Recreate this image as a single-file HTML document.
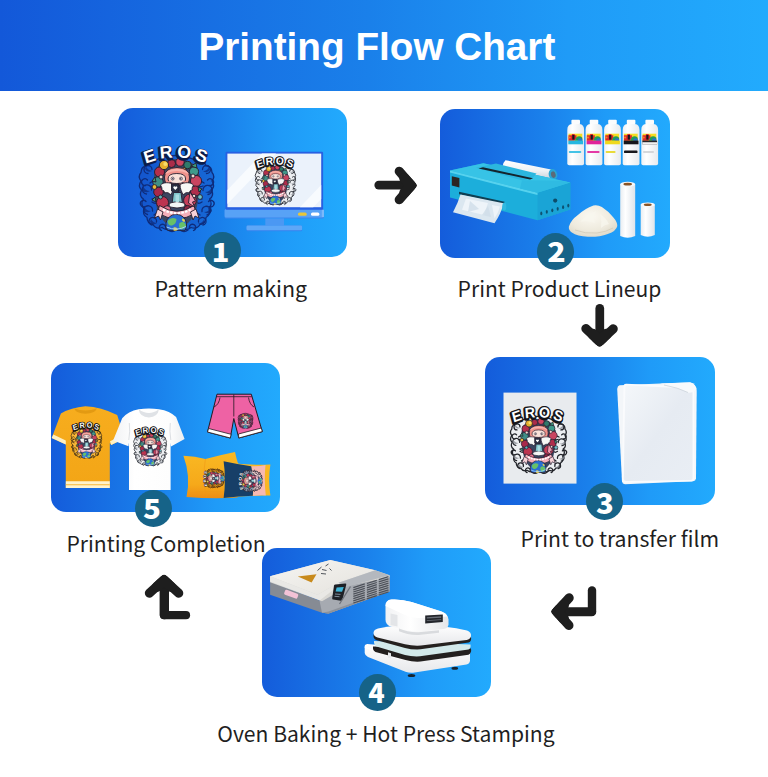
<!DOCTYPE html>
<html lang="en">
<head>
<meta charset="utf-8">
<title>Printing Flow Chart</title>
<style>
*{box-sizing:border-box;margin:0;padding:0}
html,body{width:768px;height:777px;overflow:hidden;background:#fff}
body{position:relative;font-family:"Noto Sans CJK SC","Liberation Sans",sans-serif;color:#222}
.hdr{position:absolute;left:0;top:0;width:768px;height:91px;background:linear-gradient(90deg,#1358d9 0%,#1a80ea 48%,#1f9bf7 74%,#22abfd 100%)}
.hdr h1{position:absolute;left:198.5px;top:19.4px;white-space:nowrap;font-family:"Liberation Sans",sans-serif;font-weight:700;font-size:38.7px;line-height:56px;color:#fff}
.panel{position:absolute;border-radius:15px;background:linear-gradient(90deg,#145cdb 0%,#1a80eb 45%,#1f9bf8 72%,#22aafd 100%);overflow:hidden}
#p1{left:117.5px;top:108px;width:229.5px;height:149px}
#p2{left:440px;top:109px;width:230px;height:148.5px}
#p3{left:485px;top:356.5px;width:229.7px;height:148.7px}
#p4{left:261.5px;top:547.7px;width:229.2px;height:149px}
#p5{left:51px;top:362.5px;width:229.2px;height:149px}
.badge{position:absolute;width:37px;height:37px;border-radius:50%;background:#166388;color:#fff;font-weight:900;font-size:27px;line-height:37px;text-align:center}
.badge span{display:block;width:37px;height:37px}
.lbl{position:absolute;font-size:21.1px;line-height:30px;white-space:nowrap;color:#1f1f1f}
svg{position:absolute;overflow:visible}
.art{left:0;top:0;width:768px;height:777px}
.eros{font-family:"Liberation Sans",sans-serif;text-anchor:middle}
</style>
</head>
<body>
<div class="hdr"><h1>Printing Flow Chart</h1></div>

<div class="panel" id="p1"></div>
<div class="panel" id="p2"></div>
<div class="panel" id="p3"></div>
<div class="panel" id="p4"></div>
<div class="panel" id="p5"></div>
<!-- shared artwork definition (illustration only, lettering is added as real text per instance) -->
<svg width="0" height="0" style="left:0;top:0">
<defs>
<path id="arcE" d="M8.500 22.800A75 75 0 0 1 68 22.800" fill="none"/>
<symbol id="swirl" viewBox="0 0 80 92" overflow="visible">
  <g fill="var(--sf,none)" stroke="var(--sw,#143a94)" stroke-width="var(--swd,1.3)" stroke-linecap="round" stroke-linejoin="round">
    <path d="M17 19.500q-6-1-8 4q-6 1-6 7q-3.500 4 0 8.500q-3.500 5 .5 9q-3 6 2 9q-3.500 5 .5 9.500q-2 6 3 9q0 6 6 7q3 5 9 3q5 4 10 0h9q5 4 10 0q6 2 9-3q6-1 6-7q5-3 3-9q4-4.500 .5-9.500q5-3 2-9q4-4 .5-9q3.500-4.500 0-8.500q0-6-6-7q-2-5-8-4q-11-6-22.500-6t-22.500 6z"/>
    <path d="M14 27.500a4 4 0 1 0-4 4M9.500 38a3.400 3.400 0 1 0-2 5.500M13.500 48a4.600 4.600 0 1 0-5 4M8 59.500a3.200 3.200 0 1 0-1 5M14.500 69a4.400 4.400 0 1 0-5 3.500M18.500 80a3.800 3.800 0 1 0-4.500 3M27.500 86.500a3.200 3.200 0 1 0-4 2" fill="none"/>
    <path d="M64.500 27.500a4 4 0 1 1 4 4M69.500 38a3.400 3.400 0 1 1 2 5.500M65 48.500a4.600 4.600 0 1 1 5 4M70.500 59.500a3.200 3.200 0 1 1 1 5M64 69.500a4.400 4.400 0 1 1 5 3.500M60.500 80a3.800 3.800 0 1 1 4.500 3M51.500 86.500a3.200 3.200 0 1 1 4 2" fill="none"/>
    <path d="M12 41q4-3 6 1q-1 4-5 2M14 57q4-2 6 2q-2 4-6 1M66 41q-4-3-6 1q1 4 5 2M64 57q-4-2-6 2q2 4 6 1M16 73q3-3 6 0M62 73q-3-3-6 0M30 88q4 3 8 0M42 88q4 3 8 0M18 33q3-2 5 1M61 33q-3-2-5 1" fill="none"/>
  </g>
  <g fill="var(--sg,none)" opacity=".75">
    <path d="M5 44q2 5 7 5q-5 3-8-1zM74 45q-2 5-7 5q5 3 8-1zM6 64q2 5 7 5q-5 3-8-1zM73 65q-2 5-7 5q5 3 8-1zM8 24q1 4 6 5q-5 2-7-2zM71 24.500q-1 4-6 5q5 2 7-2zM13 77q2 4 6 4q-4 3-7-1zM66 77.500q-2 4-6 4q4 3 7-1z"/>
  </g>
</symbol>
<symbol id="core" viewBox="0 0 80 92" overflow="visible">
  <g stroke="#261d2e" stroke-width=".9" stroke-linejoin="round">
  <!-- floral wreath -->
  <path d="M39 17c8.500 0 15.500 3 19.500 8.500c4 6 3.500 14.500 2.500 22c-1 9-1 16-4 23c-3 8-9 14.500-18 14.500s-15.500-6.500-18.500-14.500c-3-7-3-14-4-23c-1-7.500-1.500-16 2.500-22c4-5.500 11.500-8.500 20-8.500z" fill="#3a4560" stroke="none"/>
  <circle cx="21.500" cy="30" r="5" fill="#b5304b"/><circle cx="20" cy="40" r="5.200" fill="#3f8f86"/><circle cx="20.500" cy="50" r="4.800" fill="#a8294a"/>
  <circle cx="56" cy="29.500" r="4.600" fill="#3f9a8a"/><circle cx="58" cy="39" r="5.600" fill="#c94460"/><circle cx="57.500" cy="49" r="5" fill="#b02e4c"/>
  <circle cx="24.500" cy="60.500" r="6" fill="#bd3450"/><circle cx="52" cy="58.500" r="6.400" fill="#c43e59"/>
  <circle cx="29" cy="67.500" r="3.800" fill="#e0708a"/><circle cx="49.500" cy="67" r="3.600" fill="#8f2745"/>
  <circle cx="33.500" cy="21.500" r="4" fill="#ab2d49"/><circle cx="42" cy="20" r="4.200" fill="#cf4560"/><circle cx="49.500" cy="23" r="3.800" fill="#2f7a6a"/>
  <circle cx="26" cy="23" r="4.600" fill="#e6b02c"/>
  <path d="M53 24l5-3l1 5zM17 35l-3 4l4 1zM60 45l4 2l-3 3zM17 55l-3 3l4 2z" fill="#3e9c7c"/>
  <circle cx="16.500" cy="45" r="2.400" fill="#e8b83a"/><circle cx="62" cy="55" r="2.400" fill="#6cc1c8"/><circle cx="46" cy="27.500" r="2" fill="#f0c23a"/>
  <circle cx="23" cy="35" r="2" fill="#f2d8d0"/><circle cx="55" cy="34" r="2" fill="#f2d8d0"/><circle cx="22.500" cy="55" r="2" fill="#5fb4b8"/><circle cx="56" cy="54" r="1.800" fill="#f2d8d0"/>
  <!-- hair + face -->
  <path d="M26.500 35q0-9 12.500-9.500q12.500.5 12.500 9.500q0 7-4 8h-17q-4-1-4-8z" fill="#f0928b"/>
  <path d="M30 37q0-5.500 8.800-5.500t8.800 5.500q0 4.500-8.800 4.500t-8.800-4.500z" fill="#f9e2da"/>
  <!-- wings -->
  <path d="M36 42.500c-5-2.500-10.500-2.500-13.500 .5c1 2 2 3 1 5c2 0 3 1 3 3c3-1 5 0 6 2c2-3 3.500-6.500 3.500-10.500z" fill="#f7f7f5"/>
  <path d="M42 42.500c5-2.500 10.500-2.500 13.500 .5c-1 2-2 3-1 5c-2 0-3 1-3 3c-3-1-5 0-6 2c-2-3-3.500-6.500-3.500-10.500z" fill="#f7f7f5"/>
  <path d="M33.500 42h7.500v7l-3.700 2.500l-3.800-2.500z" fill="#2c3144"/>
  <!-- dress -->
  <path d="M35.500 50.500h7.500l1.500 11.500h-10.500z" fill="#7fc3ca"/>
  <path d="M32 61q7-3 14 0q2 2 0 4q-7 2-14 0q-2-2 0-4z" fill="#f4f6f6"/>
  <!-- banner -->
  <path d="M21.500 63.500q17.500 11.500 34.500 0l2 7.500q-19 11.500-38.500 0z" fill="#f5aeb9"/>
  <path d="M19.500 67l-3 9l4-2l2 4l2.500-8zM58 67l3 9l-4-2l-2 4l-2.500-8z" fill="#f8d2d8"/>
  <path d="M52 50l5.500 9l-3 1l2 5l-6-4z" fill="#f49ab0"/>
  <!-- globe -->
  <path d="M29.500 88.300A10.400 10.400 0 1 1 47 88.300z" fill="#2a6fd2"/>
  </g>
  <circle cx="27.300" cy="22" r="2" fill="#f7dc6a"/>
  <path d="M27 32q3-5 12-5t12 5q-6-3-12-3t-12 3z" fill="#f7b4ac"/>
  <circle cx="34.600" cy="36.600" r="1.500" fill="#fff" stroke="#3a2c3c" stroke-width=".7"/><circle cx="43" cy="36.600" r="1.500" fill="#fff" stroke="#3a2c3c" stroke-width=".7"/>
  <circle cx="34.800" cy="36.800" r=".7" fill="#2a2030"/><circle cx="42.800" cy="36.800" r=".7" fill="#2a2030"/>
  <ellipse cx="32" cy="39.300" rx="1.500" ry=".8" fill="#f3a09c"/><ellipse cx="45.600" cy="39.300" rx="1.500" ry=".8" fill="#f3a09c"/>
  <path d="M37.300 48l-1.900-2a1.100 1.100 0 0 1 1.900-1.100a1.100 1.100 0 0 1 1.900 1.100z" fill="#fff"/>
  <path d="M37.500 52.500h3.500v7.500h-3.500z" fill="#a8dbe0"/>
  <path d="M25 67.500q14 7.500 27.500 0" fill="none" stroke="#fff" stroke-width="2.200" stroke-dasharray="2.600 1.200"/>
  <path d="M29.500 79q4-5 9-2q0 5-4.500 6.500q-4 .5-4.500-4.500zM41.500 81q5-3 6.500 2.500q-1 3.500-5 4q-3-2.500-1.500-6.500z" fill="#67c068"/>
  <path d="M35.500 85.500q3-1 4.500 2q-2 2-4.500 1zM44 76.500q3 0 3 3q-3 1-3-3z" fill="#ead24a"/>
  <path d="M28.500 85q10 4.500 19.500-.5" fill="none" stroke="#9fd0ff" stroke-width="1"/>
</symbol>
</defs>
</svg>
<!-- PANEL 1 : artwork + monitor -->
<svg class="art" viewBox="0 0 768 777">
  <!-- big artwork -->
  <g transform="translate(138 142) scale(1.0000)">
    <use href="#swirl" width="80" height="92" style="--sw:#0e2c7c;--sf:rgba(18,60,170,.32);--sg:#0e2c7c;--swd:1.3"/><use href="#core" width="80" height="92"/>
    <g transform="translate(39 24) scale(1.06 1.16) translate(-39 -24)"><text class="eros" font-size="15" font-weight="700" letter-spacing="3" textLength="61" lengthAdjust="spacingAndGlyphs" fill="#0b1c4a" stroke="#0b1c4a" stroke-width="2.600" stroke-linejoin="round" transform="translate(-.9 1.100)"><textPath href="#arcE" startOffset="51.500%">EROS</textPath></text>
    <text class="eros" font-size="15" font-weight="700" letter-spacing="3" textLength="61" lengthAdjust="spacingAndGlyphs" fill="#fff" stroke="#0b1c4a" stroke-width=".8" stroke-linejoin="round" paint-order="stroke"><textPath href="#arcE" startOffset="51.500%">EROS</textPath></text></g>
  </g>

  <!-- monitor -->
  <rect x="224.600" y="209" width="99.400" height="9.600" rx="1.500" fill="#3a86ee"/><rect x="224.600" y="209" width="99.400" height="8.600" rx="1.500" fill="#58a2f6"/><rect x="321.800" y="210" width="2.200" height="7" fill="#7db9fa"/>
  <rect x="225.500" y="151.700" width="97.600" height="58" rx="1.200" fill="#2760e2"/>
  <rect x="227.400" y="153.600" width="93.800" height="53.600" fill="#ebf2fb"/>
  <path d="M227.400 190L262 153.600h14L227.400 204zM300 207.200L321.200 185v14l-8 8.200z" fill="#f8fbfe"/>
  <rect x="298" y="212.500" width="8.700" height="3.200" rx="1.500" fill="#e8c63a"/>
  <rect x="311" y="212.500" width="8.400" height="3.200" rx="1.500" fill="#fff"/>
  <rect x="265.300" y="218.400" width="18.700" height="7.400" fill="#4b98f3"/>
  <rect x="246.500" y="225.600" width="55.600" height="5.600" rx="1.200" fill="#3483ee"/><rect x="246.500" y="225.600" width="55.600" height="4.600" rx="1.200" fill="#5ea7f7"/>
  <!-- small artwork on the screen -->
  <g transform="translate(254.5 156.5) scale(0.5437)">
    <use href="#swirl" width="80" height="92" style="--sw:#30333b;--sf:#eceef1;--sg:#9a9ea6;--swd:1.7"/><use href="#core" width="80" height="92"/>
    <g transform="translate(39 24) scale(1.13 1.3) translate(-39 -24)">
    <text class="eros" font-size="15" font-weight="700" letter-spacing="3" textLength="61" lengthAdjust="spacingAndGlyphs" fill="#15161b" stroke="#15161b" stroke-width="3.800" stroke-linejoin="round" transform="translate(-.8 1.100)"><textPath href="#arcE" startOffset="51.500%">EROS</textPath></text>
    <text class="eros" font-size="15" font-weight="700" letter-spacing="3" textLength="61" lengthAdjust="spacingAndGlyphs" fill="#fff" stroke="#15161b" stroke-width="2.800" stroke-linejoin="round" paint-order="stroke"><textPath href="#arcE" startOffset="51.500%">EROS</textPath></text>
    </g>
  </g>
</svg>
<!-- PANEL 2 : printer, inks, powder, film rolls -->
<svg class="art" viewBox="0 0 768 777">
  <defs>
    <linearGradient id="rollg" x1="0" x2="1" y1="0" y2="0"><stop offset="0" stop-color="#e9edf1"/><stop offset=".35" stop-color="#ffffff"/><stop offset="1" stop-color="#dfe4ea"/></linearGradient>
    <linearGradient id="rollh" x1="0" x2="0" y1="0" y2="1"><stop offset="0" stop-color="#ffffff"/><stop offset=".55" stop-color="#eef1f4"/><stop offset="1" stop-color="#c9d0d8"/></linearGradient>
    <radialGradient id="powg" cx=".45" cy=".35" r=".75"><stop offset="0" stop-color="#fbf9f2"/><stop offset=".6" stop-color="#eeeadd"/><stop offset="1" stop-color="#d9d3c2"/></radialGradient>
    <linearGradient id="botg" x1="0" x2="1" y1="0" y2="0"><stop offset="0" stop-color="#eef1f4"/><stop offset=".3" stop-color="#ffffff"/><stop offset="1" stop-color="#e6eaee"/></linearGradient>
  </defs>
  <!-- film roll on the back of the printer -->
  <path d="M505.500 160.200L551 169.500q4.500 1.200 4 6.500q-.6 4-5 3.400L503.500 170q-2.500-5.500 2-9.800z" fill="url(#rollh)"/>
  <ellipse cx="553" cy="174.500" rx="4.300" ry="5.600" transform="rotate(-14 553 174.500)" fill="#2aa6d4"/>
  <ellipse cx="553.300" cy="174.600" rx="2.300" ry="3.300" transform="rotate(-14 553.300 174.600)" fill="#5b6b78"/>
  <!-- printer body -->
  <path d="M450 170.400L483.400 163.200L570.300 182.600L570.300 209.600L537.500 220.200L450 197.600z" fill="#1caedb"/>
  <path d="M450 170.400L483.400 163.200L570.300 182.600L537.500 192.800z" fill="#37c3e6"/>
  <path d="M537.500 192.800L570.300 182.600V209.600L537.500 220.200z" fill="#1aa4d6"/>
  <path d="M450 170.400L537.500 192.800V195L450 172.600z" fill="#56d2ee"/>
  <!-- lid details -->
  <path d="M476 167.800L496 163.600L536.500 173.600L532 178.600L522 180.300z" fill="#2bb6de"/>
  <path d="M478.500 168.500L483 167.300L533 178.300L530 179.600z" fill="#14252e"/>
  <path d="M522 180.300L560 180.800L570.300 182.600L537.500 192.800L520 188.400z" fill="#2fbbe2"/>
  <!-- front label -->
  <rect x="451.800" y="176.200" width="7.600" height="9.400" fill="#2b2623" transform="skewY(14.300) translate(0 -115.200)"/>
  <!-- output slot and film -->
  <path d="M459 191.700L504.500 201.800V204.400L459 194.300z" fill="#0f3e52"/>
  <path d="M460.500 194.600L503.500 203.300Q501 214 494.500 223.200L453 212.200Q458 203 460.500 194.600z" fill="#dbe7f0"/>
  <path d="M466 198.500L488 203l-4 12l-22-5.200zM492 205l8 1.600q-2 7-5.500 12z" fill="#eff5fa" opacity=".9"/>
  <path d="M470 201l9 8l-11 3zM488 206l-6 9l9 2z" fill="#cfdde8" opacity=".8"/>
  <ellipse cx="504.300" cy="206.600" rx="2" ry="4" fill="#2fb9e0"/>
  <!-- side holes -->
  <circle cx="555.200" cy="200.600" r="2.100" fill="#0d4d6a"/>
  <g fill="#0e5272"><ellipse cx="541.300" cy="213.400" rx="1.050" ry="1.900"/><ellipse cx="546.800" cy="211.800" rx="1.050" ry="1.900"/><ellipse cx="552.300" cy="210.300" rx="1.050" ry="1.900"/><ellipse cx="557.700" cy="208.800" rx="1.050" ry="1.900"/><ellipse cx="563.100" cy="207.200" rx="1.050" ry="1.900"/><ellipse cx="568.300" cy="205.600" rx="1.050" ry="1.900"/></g>

  <!-- ink bottles -->
  <g id="bottles">
    <g id="b1"><rect x="571.400" y="119.700" width="8.600" height="4.600" rx="1" fill="#fbfcfd"/><path d="M567.300 130q0-5.400 4.600-5.900h7.600q4.600.5 4.600 5.900V163.500q0 1.800-1.800 1.800H569.100q-1.800 0-1.800-1.800z" fill="url(#botg)"/>
      <rect x="568.500" y="133.700" width="13.800" height="7.200" fill="#f6dc22"/><path d="M568.500 135.200h3.400v-1.200h2.800v1.200h1.800v2.800l-2 2.800h-6z" fill="#e0262d"/><rect x="572.300" y="135" width="2.200" height="4.600" fill="#17171b"/><path d="M576.200 137.600q3-2.600 6.100.2v3h-7.500z" fill="#1f9c5a"/><path d="M578.500 138.800q2-1.200 3.800.4v1.600h-4.600z" fill="#2a6fd0"/><circle cx="569.700" cy="137.500" r="1.100" fill="#f08a1c"/></g>
    <use href="#b1" x="18.300"/><use href="#b1" x="36.800"/><use href="#b1" x="55.400"/><use href="#b1" x="74"/>
    <rect x="568.300" y="140.600" width="14.800" height="3.700" fill="#25b7e0"/><rect x="586.600" y="140.600" width="14.800" height="3.700" fill="#e0239a"/><rect x="605.100" y="140.600" width="14.800" height="3.700" fill="#efd91c"/><rect x="623.700" y="140.600" width="14.800" height="3.700" fill="#15151a"/><rect x="642.300" y="140.600" width="14.800" height="3.700" fill="#26262b"/><rect x="642.300" y="142.200" width="14.800" height="2.100" fill="#f0f0f0"/>
    <rect x="568.800" y="151" width="12.500" height="1.900" rx=".9" fill="#45c3e6"/><rect x="587.100" y="151" width="12.500" height="1.900" rx=".9" fill="#e43aa6"/><rect x="605.600" y="151" width="10" height="1.900" rx=".9" fill="#e9db3a"/><rect x="624" y="150.600" width="13.500" height="2.500" rx=".9" fill="#17171c"/><rect x="643" y="151.200" width="11" height="1.500" rx=".7" fill="#c9ccd0"/>
  </g>

  <!-- powder -->
  <path d="M568.900 226.500q2-6.500 9-11.500q7-6.500 15.500-9.500q4.500-.8 8.500 1.500q7 4.500 11.500 10.500q4 4.500 3.900 8.500q-1 5-9.500 8q-8.500 3.200-20 2.800q-10.500-.6-16-4.300q-3.500-2.500-2.900-6z" fill="url(#powg)"/>
  <path d="M580 222q8-9 16-11q-3 6-1 12q-7-3-15-1zM600 214q6 4 9 10q-5 1-8 4q1-7-1-14z" fill="#f8f6ee" opacity=".8"/>
  <path d="M575 230q10 4 22 3q9-1 16-5" fill="none" stroke="#cfc8b5" stroke-width="1" opacity=".7"/>

  <!-- film rolls -->
  <path d="M620.200 184.300q7.500-3.600 15 0V236q-7.500 3.600-15 0z" fill="url(#rollg)"/>
  <ellipse cx="627.700" cy="184.200" rx="7.500" ry="2.500" fill="#f7f8fa"/><ellipse cx="627.700" cy="184.200" rx="4.300" ry="1.350" fill="#8a5426"/>
  <path d="M640.700 204.800q7-3.400 14.100 0V235q-7 3.400-14.100 0z" fill="url(#rollg)"/>
  <ellipse cx="647.750" cy="204.700" rx="7.050" ry="2.300" fill="#f7f8fa"/><ellipse cx="647.750" cy="204.700" rx="4" ry="1.250" fill="#8a5426"/>
</svg>
<!-- PANEL 3 : printed film + blank sheets -->
<svg class="art" viewBox="0 0 768 777">
  <defs>
    <linearGradient id="shg" x1="0" x2="1" y1="0" y2="1"><stop offset="0" stop-color="#f4f7fa"/><stop offset=".5" stop-color="#e6ebf2"/><stop offset="1" stop-color="#e9eef4"/></linearGradient>
  </defs>
  <rect x="503.500" y="392.600" width="73" height="91" fill="#e8ebee"/>
  <g transform="translate(509.5 406.3) scale(0.7500)">
    <use href="#swirl" width="80" height="92" style="--sw:#22242a;--sf:#eceef1;--sg:#80848c;--swd:1.7"/><use href="#core" width="80" height="92"/>
    <g transform="translate(39 24) scale(1.13 1.3) translate(-39 -24)">
    <text class="eros" font-size="15" font-weight="700" letter-spacing="3" textLength="61" lengthAdjust="spacingAndGlyphs" fill="#14151a" stroke="#14151a" stroke-width="3.400" stroke-linejoin="round" transform="translate(-.8 1)"><textPath href="#arcE" startOffset="51.500%">EROS</textPath></text>
    <text class="eros" font-size="15" font-weight="700" letter-spacing="3" textLength="61" lengthAdjust="spacingAndGlyphs" fill="#fff" stroke="#14151a" stroke-width="2.600" stroke-linejoin="round" paint-order="stroke"><textPath href="#arcE" startOffset="51.500%">EROS</textPath></text>
    </g>
  </g>

  <!-- blank film stack -->
  <path d="M619.500 385.200L690 382.300q6.500 1.500 6.700 8.500L696 478.500q-.4 2.600-3 2.800L625 484.300q-2.600-.2-3-2.800L617.200 389q.2-3 2.300-3.800z" fill="#f3f6f9"/>
  <path d="M626 383.700L689 386.600q4.500.6 5 5L694.400 479q-.3 2.300-2.600 2.500L624.500 482.800q-2.400-.2-2.600-2.600L623.500 386q.3-2.200 2.500-2.300z" fill="#fafbfd"/>
  <path d="M627.300 385.600L688 388.400q4 .6 4.500 4.500L692.600 478q-.2 1.800-2 2L626 481q-2-.2-2.200-2L625.300 387.500q.3-1.800 2-1.900z" fill="url(#shg)"/>
  <path d="M660 383.500L690 382.500q5 1 6.300 6.500q-3 4-8.300 3.600q-10-5.500-28-9.100z" fill="#f8fafc"/>
  <path d="M664 385q14 2.500 24 7.500" fill="none" stroke="#cdd4dc" stroke-width=".8"/>
</svg>
<!-- PANEL 4 : curing oven + heat press -->
<svg class="art" viewBox="0 0 768 777">
  <defs>
    <linearGradient id="lid" x1="0" x2="1" y1="0" y2="1"><stop offset="0" stop-color="#f6f5f2"/><stop offset="1" stop-color="#e4e2dd"/></linearGradient>
    <linearGradient id="hp" x1="0" x2="0" y1="0" y2="1"><stop offset="0" stop-color="#ffffff"/><stop offset="1" stop-color="#e7e8eb"/></linearGradient>
    <linearGradient id="hp2" x1="0" x2="1" y1="0" y2="0"><stop offset="0" stop-color="#f1f2f4"/><stop offset=".4" stop-color="#ffffff"/><stop offset="1" stop-color="#e4e6e9"/></linearGradient>
  </defs>
  <!-- oven body -->
  <path d="M270.100 581.500L319.500 600.500L389.600 577V591.600L328.600 613.600L322 612.800L270.100 594.800z" fill="#868b94"/>
  <path d="M319.500 600.500L336 585L389.600 575.300V591.600L328.600 613.600L322 612.800z" fill="#a6aab1"/>
  <path d="M322 612.800L328.600 613.600L389.600 591.600V589.800L328.600 611.600z" fill="#8d929a"/>
  <!-- lid -->
  <path d="M270.100 576.200L330.300 560.100L375.200 570.300L389.600 575.300V577.200L344 586.500L338 592L322 601.200L270.100 582.300z" fill="#d9d8d4"/>
  <path d="M270.100 576.200L330.300 560.100L375.200 570.300L338.500 582.800L317.500 594.800z" fill="url(#lid)"/>
  <path d="M270.100 576.200L317.500 594.800L338.500 582.800L340 584.500L320 600.300L270.100 581.600z" fill="#e9e8e5"/>
  <path d="M338.500 582.800L375.200 570.300L389.600 575.300L346 587z" fill="#b4b8be"/>
  <!-- warning triangle + marks -->
  <path d="M297.800 576.600L316.500 574.200L311.600 582.400z" fill="#c88a1c"/>
  <path d="M317.500 570.500l4-3.500M322 569.500l4.500 1M325.500 566l3-2M321 573.500l5 .5M329.500 568.500l2 2" stroke="#4f545a" stroke-width="1" fill="none"/>
  <!-- handle -->
  <rect x="284.200" y="591.600" width="14" height="5.200" rx="1.400" fill="#f3c2d6" transform="rotate(20 291.200 594.200)"/>
  <!-- control panel -->
  <path d="M334 585.600q.3-1 1.400-1.100L345.200 583.500q1.500 0 1 1.400L342.400 599.800q-.4 1.100-1.600 1L333.200 599.600q-1.200-.2-1-1.400z" fill="#1d2026"/>
  <path d="M336.600 587.500L343.800 586.900L342 591.800L335.600 591.500z" fill="#3fb5d8"/>
  <path d="M335 594l5.500.4M334.500 596.300l5 .4" stroke="#8a97a5" stroke-width=".9"/>
  <path d="M350.500 586.500L339.500 604" stroke="#6d727b" stroke-width="1.300"/>
  <!-- vents -->
  <g stroke="#4d5159" stroke-width="1.250">
    <path d="M353.3 587.6L364.8 583.9M353.3 589.8L364.8 586.1M353.3 592.0L364.8 588.3M353.3 594.2L364.8 590.5M353.3 596.4L364.8 592.7M353.3 598.6L364.8 594.9M353.3 600.8L364.8 597.1M353.3 603.0L364.8 599.3"/>
    <path d="M366.9 583.5L376.8 580.3M366.9 585.7L376.8 582.5M366.9 587.9L376.8 584.7M366.9 590.1L376.8 586.9M366.9 592.3L376.8 589.1M366.9 594.5L376.8 591.3M366.9 596.7L376.8 593.5M366.9 598.9L376.8 595.7"/>
    <path d="M378.8 579.6L388.5 576.6M378.8 581.8L388.5 578.8M378.8 584.0L388.5 581.0M378.8 586.2L388.5 583.2M378.8 588.4L388.5 585.4M378.8 590.6L388.5 587.6M378.8 592.8L388.5 589.8M378.8 595.0L388.5 592.0"/>
  </g>

  <!-- heat press : base -->
  <ellipse cx="411.500" cy="675.500" rx="3.800" ry="1.600" fill="#16222e"/><ellipse cx="454.800" cy="668.200" rx="3.300" ry="1.500" fill="#16222e"/>
  <path d="M364.700 647q-.5-2.500 2.500-3L470 652.500v8.200q-.3 3-3.500 3.700L413 672.700q-4 .3-7.500-1L368 657q-3-1.200-3.300-4z" fill="url(#hp)"/>
  <path d="M364.700 647q20 9 46 14q28-1 59.300-8.500" fill="none" stroke="#fff" stroke-width="1.200"/>
  <!-- lower pad + dark bands -->
  <path d="M373 646.500L471 648.500q.8 4.500-2.500 6.200L420.500 661.600q-8 .5-15-1.500L375.500 652q-3-1.500-2.500-5.500z" fill="#23201f"/>
  <path d="M374 641L470.500 644.500q.6 3.600-2 5L420 656.300q-8 .5-15-1.300L376.500 646.500q-2.800-1.500-2.500-5.500z" fill="#d3e9ea"/>
  <path d="M388 652.200l3 1v5.300l-3-1z" fill="#e8eaec"/>
  <!-- upper platen -->
  <path d="M373.500 634.500L471 637q.8 4-2.300 5.600L420.500 649.300q-8 .5-15.500-1.400L376 640q-3-1.500-2.500-5.500z" fill="#25211f"/>
  <path d="M378 628.500q20-4 43-3.600q25 .5 46 5.600q4.500 1.500 4 5.500q-.5 3-4.500 4L421 645.500q-8 .6-16-1.300L377.500 637.600q-4-1.300-4-4.800q.4-3.300 4.500-4.300z" fill="url(#hp)"/>
  <!-- head -->
  <path d="M385.500 606q0-6 6-6.500q10-.6 20 2.500l30 9.500q6.500 2.500 7 8v5q-.5 4-5 4.600l-22 2.200q-8 .6-15-1l-15-3.600q-6-1.500-6-7z" fill="url(#hp2)"/>
  <path d="M385.500 606q0-6 6-6.500q10-.6 20 2.500l30 9.500q4.500 1.600 6 5l-28 1.500q-8 0-14.500-3z" fill="#ffffff"/>
  <path d="M390.500 613.500l7 1.500v11.500l-7-1.500z" fill="#e3e5e8"/>
  <path d="M399 628.500q10 4.500 22 3.500l18-1.800v2.500l-18 2q-12 1-22-3.500z" fill="#d9dbde"/>
  <path d="M425.200 615.500l17.600-1v7.600l-17.600 1.500z" fill="#23262c"/>
  <path d="M426.800 617.200l14.400-.9v1.400l-14.400.9zM426.800 620.200l14.400-1v.9l-14.400 1z" fill="#6a6f78"/>
</svg>
<!-- PANEL 5 : finished products -->
<svg class="art" viewBox="0 0 768 777">
  <defs>
    <linearGradient id="yel" x1="0" x2="0" y1="0" y2="1"><stop offset="0" stop-color="#f7ad1e"/><stop offset="1" stop-color="#f3a516"/></linearGradient>
    <linearGradient id="wht" x1="0" x2="1" y1="0" y2="0"><stop offset="0" stop-color="#f1f2f4"/><stop offset=".3" stop-color="#ffffff"/><stop offset=".8" stop-color="#fdfdfd"/><stop offset="1" stop-color="#eceef0"/></linearGradient>
    <linearGradient id="pil" x1="0" x2="0" y1="0" y2="1"><stop offset="0" stop-color="#f9b923"/><stop offset=".7" stop-color="#f6a91a"/><stop offset="1" stop-color="#ee8d12"/></linearGradient>
  </defs>
  <!-- yellow shirt -->
  <path d="M60.900 413.500Q71 407.500 85.400 406.300Q101 407 117.200 415L124.500 438.500L111.200 445L109.800 443V488.100H65.800V444.400L51.700 437.900z" fill="url(#yel)"/>
  <path d="M51.700 437.900L65.800 444.400V440.600L53.300 434.400zM124.500 438.500L111.200 445L110 441.200L123.200 435z" fill="#fff0c2"/>
  <path d="M65.800 481.300h44v6.800h-44z" fill="#fff3cc"/><path d="M65.800 484.300h44v.9h-44z" fill="#f6b738"/>
  <path d="M74 408.300q11.500 4.500 23 0q-2 5.200-11.500 5.500q-9.500-.3-11.500-5.500z" fill="#e39a12"/>
  <!-- art on yellow shirt -->
  <g transform="translate(70.5 421.5) scale(0.4125)">
    <use href="#swirl" width="80" height="92" style="--sw:#3a2a14;--sf:rgba(255,214,120,.3);--sg:#6b4a16;--swd:1.800"/><use href="#core" width="80" height="92"/>
    <g transform="translate(39 24) scale(1.06 1.25) translate(-39 -24)">
    <text class="eros" font-size="15" font-weight="700" letter-spacing="3" textLength="61" lengthAdjust="spacingAndGlyphs" fill="#1a1410" stroke="#1a1410" stroke-width="4" stroke-linejoin="round" transform="translate(-.8 1.200)"><textPath href="#arcE" startOffset="51.500%">EROS</textPath></text>
    <text class="eros" font-size="15" font-weight="700" letter-spacing="3" textLength="61" lengthAdjust="spacingAndGlyphs" fill="#f4f4f4" stroke="#1a1410" stroke-width="3" stroke-linejoin="round" paint-order="stroke"><textPath href="#arcE" startOffset="51.500%">EROS</textPath></text>
    </g>
  </g>

  <!-- white shirt -->
  <path d="M138.700 409.200Q128 411 122.200 418.300L113.100 440.400L128.500 446.200L129 442.500V489.900H170.600V442.500L171 446.400L184.600 439.100L176.100 417.100Q170 410.800 158.900 409.200Q149 407.600 138.700 409.200z" fill="url(#wht)"/>
  <path d="M138.700 409.200q10.200 7.500 20.200 0q-1 7.800-10 8.200q-9.200-.4-10.200-8.200z" fill="#dfe2e6"/>
  <path d="M128.800 440q1.500-9 .5-17M170.800 440q-1.500-9-.5-17" fill="none" stroke="#dcdfe3" stroke-width="1"/>
  <!-- art on white shirt -->
  <g transform="translate(133 426.3) scale(0.4437)">
    <use href="#swirl" width="80" height="92" style="--sw:#34373f;--sf:#eceef1;--sg:#9a9ea6;--swd:1.800"/><use href="#core" width="80" height="92"/>
    <g transform="translate(39 24) scale(1.06 1.25) translate(-39 -24)">
    <text class="eros" font-size="15" font-weight="700" letter-spacing="3" textLength="61" lengthAdjust="spacingAndGlyphs" fill="#15161a" stroke="#15161a" stroke-width="4" stroke-linejoin="round" transform="translate(-.8 1.200)"><textPath href="#arcE" startOffset="51.500%">EROS</textPath></text>
    <text class="eros" font-size="15" font-weight="700" letter-spacing="3" textLength="61" lengthAdjust="spacingAndGlyphs" fill="#f4f4f4" stroke="#15161a" stroke-width="3" stroke-linejoin="round" paint-order="stroke"><textPath href="#arcE" startOffset="51.500%">EROS</textPath></text>
    </g>
  </g>

  <!-- shorts -->
  <path d="M217 394.200h34.300l11 37.400l-23.500 6.400l-5-19.500l-3.500 19.500l-22.800-6z" fill="#ee62a4" stroke="#231a22" stroke-width="1" stroke-linejoin="round"/>
  <path d="M208.600 428.500l22.500 5.800l-.8 3.700l-22.800-6zM261.300 428l-22.800 6l.3 4l23.500-6.400z" fill="#fff" stroke="#231a22" stroke-width=".8" stroke-linejoin="round"/>
  <path d="M216.600 396.700h35.200" stroke="#231a22" stroke-width=".8" fill="none"/>
  <path d="M233.800 394.500v22M220 397.500q-1 7-6 9.500M248.500 397.500q1 7 5.500 9.500" stroke="#231a22" stroke-width=".8" fill="none"/>
  <g transform="translate(245.800 419.800) scale(.2) translate(-40 -46)"><use href="#swirl" width="80" height="92" style="--sw:#3a2233;--sf:rgba(90,50,80,.55);--swd:3"/><use href="#core" width="80" height="92"/></g>

  <!-- yellow pillow -->
  <path d="M183.400 455.800q12 .5 22 3.200q14-3.800 29.600-7q2.500 12 6.500 20l-4 25.400q-22 1.800-51-.4q4.500-21-3.100-41.200z" fill="url(#pil)"/>
  <path d="M205.400 459q-3 18 1 38M188 493q20-3 48 0" fill="none" stroke="#ee9615" stroke-width=".8" opacity=".7"/>
  <g transform="translate(213.500 478) rotate(-90) scale(.255) translate(-40 -46)"><use href="#swirl" width="80" height="92" style="--sw:#4a2c12;--sf:rgba(120,70,20,.28);--swd:2.600"/><use href="#core" width="80" height="92"/>
    <text class="eros" font-size="15" font-weight="700" letter-spacing="3" textLength="61" lengthAdjust="spacingAndGlyphs" fill="#fff" stroke="#2a1a10" stroke-width="4" stroke-linejoin="round" paint-order="stroke"><textPath href="#arcE" startOffset="51.500%">EROS</textPath></text></g>
  <!-- navy / photo pillow -->
  <path d="M223.600 461.200q24 4.800 46.800 3.200q-2.500 15.500 0 31.200q-23-.5-46.800 2.500q2.600-18.500 0-36.900z" fill="#f8b723"/>
  <path d="M251 466.200q9 .3 14.500-1.300q-1.500 15 .3 30.500q-7-.3-13 .4q2-15-1.800-29.600z" fill="#f6b9b2"/>
  <path d="M223.600 461.200q14 3 27.600 5q3.300 15 1.600 29.500q-14 .3-29.200 2.400q2.600-18.500 0-36.900z" fill="#173f68"/>
  <g transform="translate(250 480.500) rotate(-90) scale(.285) translate(-40 -46)"><use href="#swirl" width="80" height="92" style="--sw:#2a2230;--sf:rgba(240,240,245,.5);--sg:#8a8088;--swd:2.400"/><use href="#core" width="80" height="92"/>
    <text class="eros" font-size="15" font-weight="700" letter-spacing="3" textLength="61" lengthAdjust="spacingAndGlyphs" fill="#fff" stroke="#1a2a44" stroke-width="3" stroke-linejoin="round" paint-order="stroke"><textPath href="#arcE" startOffset="51.500%">EROS</textPath></text></g>
</svg>
<!-- ARROWS -->
<svg class="art" viewBox="0 0 768 777" fill="none" stroke="#1e1e1e" stroke-linecap="round" stroke-linejoin="round">
<path d="M378.75 185.1H410" stroke-width="8.7"/><path d="M399.25 171.35 L411.50 185.50 L399.25 199.70" stroke-width="9.2"/><path d="M411.01 180.96 L414.94 185.50 L411.02 190.04" stroke-width="4.0"/><path d="M404.49 178.32 L410.71 185.50 L404.50 192.69" stroke-width="10.4"/>
<path d="M599.77 308.4V340" stroke-width="8.75"/><path d="M585.90 328.70 L599.60 341.50 L613.20 328.90" stroke-width="9.2"/><path d="M595.21 339.25 L599.60 343.34 L604.00 339.27" stroke-width="6.5"/><path d="M592.66 334.06 L599.60 340.54 L606.57 334.09" stroke-width="10.6"/>
<path d="M592 590.45V611.9" stroke-width="8.4"/><path d="M591.6 611.75H558" stroke-width="9.1"/><path d="M569.15 597.90 L556.60 611.65 L568.90 625.40" stroke-width="9.2"/><path d="M557.14 607.20 L553.10 611.63 L557.10 616.10" stroke-width="4.0"/><path d="M563.81 604.64 L557.41 611.65 L563.74 618.73" stroke-width="10.4"/>
<path d="M164.3 581V614.6" stroke-width="9.4"/><path d="M164.0 615.2H186" stroke-width="8.2"/><path d="M149.40 593.10 L164.05 579.87 L178.70 593.20" stroke-width="9.2"/><path d="M159.60 582.07 L164.05 578.05 L168.49 582.09" stroke-width="6.5"/><path d="M157.00 586.84 L164.05 580.48 L171.08 586.87" stroke-width="10.1"/>
</svg>

<div class="badge" style="left:204.1px;top:232.3px"><span style="transform:translate(-2px,.35px) scale(1.075,.98)">1</span></div>
<div class="badge" style="left:537.2px;top:232.5px"><span style="transform:translate(.85px,-.95px) scale(1.12,1.02)">2</span></div>
<div class="badge" style="left:585.6px;top:483.3px"><span style="transform:translate(.5px,.5px) scale(1.08,1.04)">3</span></div>
<div class="badge" style="left:359.1px;top:673.7px"><span style="transform:translate(-1.2px,-1.05px)">4</span></div>
<div class="badge" style="left:134.5px;top:489.9px"><span style="transform:translate(-1.4px,-1.1px) scale(1.09,1.01)">5</span></div>

<div class="lbl" style="left:154.5px;top:273px;font-size:21.45px">Pattern making</div>
<div class="lbl" style="left:457.6px;top:273px">Print Product Lineup</div>
<div class="lbl" style="left:520.6px;top:522.6px;font-size:21.2px">Print to transfer film</div>
<div class="lbl" style="left:217.3px;top:717.5px;font-size:21.1px">Oven Baking + Hot Press Stamping</div>
<div class="lbl" style="left:66.5px;top:527.7px">Printing Completion</div>
</body>
</html>
